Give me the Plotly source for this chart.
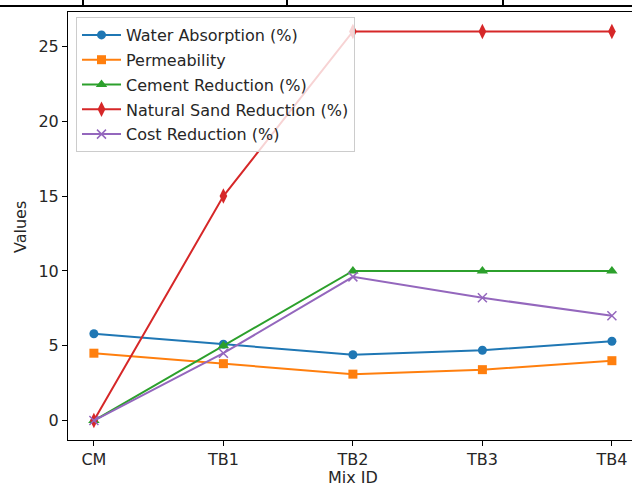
import plotly.graph_objects as go

mix_ids = ["CM", "TB1", "TB2", "TB3", "TB4"]
water_absorption = [5.8, 5.1, 4.4, 4.7, 5.3]
permeability = [4.5, 3.8, 3.1, 3.4, 4.0]
cement_reduction = [0, 5, 10, 10, 10]
sand_reduction = [0, 15, 26, 26, 26]
cost_reduction = [0, 4.5, 9.6, 8.2, 7.0]

series = [
    ("Water Absorption (%)", water_absorption, "#1f77b4", "circle", 9),
    ("Permeability", permeability, "#ff7f0e", "square", 9),
    ("Cement Reduction (%)", cement_reduction, "#2ca02c", "triangle-up", 10),
    ("Natural Sand Reduction (%)", sand_reduction, "#d62728", "diamond-tall", 11),
    ("Cost Reduction (%)", cost_reduction, "#9467bd", "x-thin-open", 9),
]

fig = go.Figure()
xs = list(range(len(mix_ids)))
for i, (name, vals, color, sym, sz) in enumerate(series):
    marker = dict(symbol=sym, size=sz, color=color)
    if sym == "x-thin-open":
        marker["line"] = dict(color=color, width=1.5)
    else:
        marker["line"] = dict(width=0)
    fig.add_trace(go.Scatter(
        x=xs, y=vals, name=name, mode="lines+markers",
        line=dict(color=color, width=2), marker=marker,
        legendgroup=f"g{i}",
    ))

L, T, B = 68, 12, 46
W, H = 632, 486
pw = W - L
ph = H - T - B

def px_x(p):
    return (p - L) / pw

def px_y(p):
    return 1 - (p - T) / ph

font = "DejaVu Sans, sans-serif"
FS = 16
fig.update_layout(
    width=W, height=H,
    margin=dict(l=L, r=0, t=T, b=B, autoexpand=False),
    paper_bgcolor="white", plot_bgcolor="white",
    font=dict(family=font, size=FS, color="#262626"),
    showlegend=True,
    legend=dict(
        x=px_x(76), y=px_y(17), xanchor="left", yanchor="top",
        bgcolor="rgba(255,255,255,0.8)", bordercolor="#cccccc", borderwidth=1,
        font=dict(size=FS, color="#262626"), tracegroupgap=1,
        itemwidth=39,
    ),
    xaxis=dict(
        tickmode="array", tickvals=xs, ticktext=mix_ids,
        range=[-0.2, -0.2 + pw / 129.5], automargin=False,
        showgrid=False, zeroline=False,
        showline=True, linecolor="black", linewidth=1, mirror=True,
        ticks="outside", ticklen=5, tickcolor="black",
    ),
    yaxis=dict(
        range=[-1.3, 27.3], tickvals=[0, 5, 10, 15, 20, 25], automargin=False,
        showgrid=False, zeroline=False,
        showline=True, linecolor="black", linewidth=1,
        ticks="outside", ticklen=5, tickcolor="black",
    ),
    annotations=[
        dict(text="Mix ID", xref="paper", yref="paper", x=px_x(353), y=px_y(477),
             xanchor="center", yanchor="middle", showarrow=False,
             font=dict(size=FS, color="#262626")),
        dict(text="Values", xref="paper", yref="paper", x=px_x(20), y=px_y(227),
             xanchor="center", yanchor="middle", showarrow=False, textangle=-90,
             font=dict(size=FS, color="#262626")),
    ],
)

# fragment of table border above the chart
shapes = [
    dict(type="line", xref="paper", yref="paper", x0=px_x(0), x1=1.0,
         y0=px_y(6), y1=px_y(6), line=dict(color="black", width=2)),
]
for xv in [83, 287, 503]:
    shapes.append(dict(type="line", xref="paper", yref="paper",
                       x0=px_x(xv), x1=px_x(xv), y0=px_y(6), y1=px_y(-2),
                       line=dict(color="black", width=2)))
fig.update_layout(shapes=shapes)

fig.write_html(
    "out.html",
    config={"displayModeBar": False},
    post_script="document.body.style.margin='0';document.body.style.overflow='hidden';",
)
